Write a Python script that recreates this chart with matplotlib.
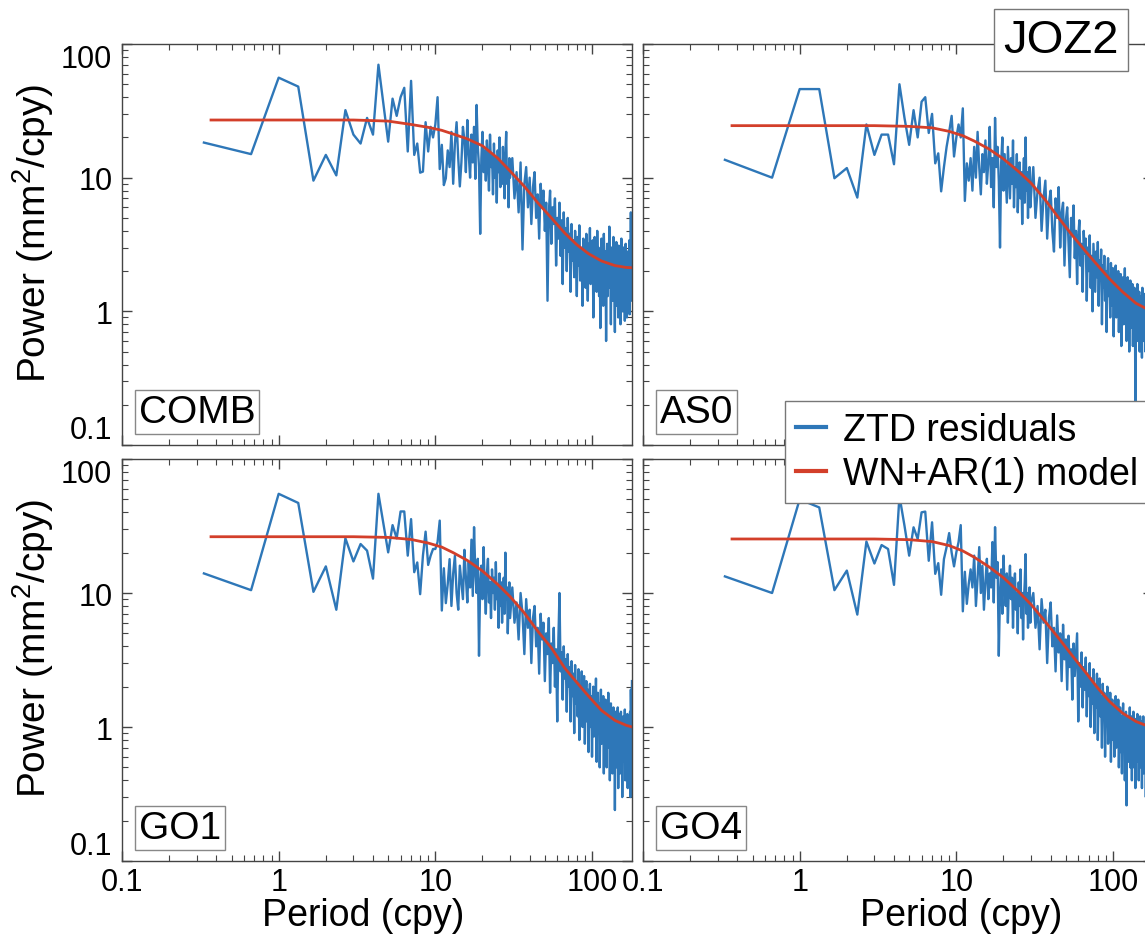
import numpy as np
import matplotlib
matplotlib.use("Agg")
import matplotlib.pyplot as plt
from matplotlib.lines import Line2D
from matplotlib.ticker import LogLocator, NullFormatter

plt.rcParams["font.family"] = ["Liberation Sans", "DejaVu Sans"]
plt.rcParams["mathtext.fontset"] = "custom"
plt.rcParams["mathtext.rm"] = "Liberation Sans"

# Fourier frequencies (cpy): 1/3 cpy spacing up to 30 cpy, 1 cpy spacing above
freq_low = np.arange(1, 91) / 3.0
freq_high = np.arange(31, 181) * 1.0
freq = np.concatenate([freq_low, freq_high])

# ZTD residual spectra (mm^2/cpy)
comb_low = [18.3, 15.0, 56, 48, 9.5, 14.8, 10.4, 32, 21, 18,
            28, 21, 70, 35, 18.6, 39, 29, 40, 47, 15.7,
            53, 14.8, 18, 10.9, 11.1, 26, 15.7, 24, 20, 25,
            40, 11.6, 17.6, 8.8, 9.9, 16, 12, 22, 9, 18,
            26, 14, 8.6, 13, 24, 19, 11, 27, 15, 10,
            21, 13, 24, 9.8, 35, 17, 12, 3.8, 14, 22,
            11, 16, 9.5, 19, 13, 8, 21, 12, 15, 7.5,
            18, 10, 14, 6.5, 16, 11, 20, 8.5, 13, 9,
            17, 10.5, 7, 15, 22, 9, 12, 6, 14, 10]
comb_high = [14, 7, 11, 5.5, 13, 2.9, 9, 12, 6, 10,
             4.5, 8.5, 11, 5, 7.5, 3.5, 9, 6, 8, 4,
             6.5, 1.2, 5.5, 8, 3.2, 6, 4.5, 7, 2.2, 5,
             3.5, 6.5, 2.6, 4.8, 1.6, 5.5, 3, 4.2, 2, 5,
             2.8, 3.8, 1.4, 4.5, 2.4, 3.4, 1.8, 4, 2.6, 1.3,
             3.6, 2.2, 4.4, 1.7, 3, 2.4, 1.1, 3.5, 2, 2.9,
             1.5, 3.8, 2.3, 1.2, 3.2, 2.6, 4.2, 1.6, 2.8, 1.9,
             3.4, 0.9, 2.5, 3.6, 1.8, 2.9, 1.4, 4, 2.1, 3,
             1.3, 2.7, 0.75, 2.2, 3.5, 1.7, 2.9, 1.1, 3.8, 2.3,
             1.6, 2.8, 0.6, 2, 3.2, 1.3, 2.6, 1.9, 4.3, 1.5,
             2.4, 0.8, 3, 1.8, 2.7, 1.2, 3.6, 2.2, 1.5, 0.7,
             2.9, 1.7, 3.3, 1.1, 2.5, 1.9, 0.9, 3.1, 2, 1.4,
             2.8, 0.8, 2.3, 3.5, 1.6, 2.6, 1, 2.1, 3, 1.3,
             2.5, 0.85, 1.9, 3.2, 1.5, 2.4, 0.9, 2.8, 1.7, 1.1,
             2.6, 1.4, 3.4, 0.95, 2.2, 1.6, 5.5, 1.2, 2.7, 1.8]

as0_low = [13.6, 10, 46, 46, 9.9, 11.8, 7.1, 25, 14.8, 21,
           21, 12.6, 50, 28, 17.6, 32, 20, 37, 40, 21.6,
           30, 12.8, 15.2, 7.9, 12, 17, 22, 29, 14.4, 20,
           25, 20, 33, 6.7, 12.8, 9.5, 14, 8, 17, 10,
           22, 12, 7.5, 15, 11, 19, 9, 13, 24, 8.5,
           14, 6, 28, 12, 17, 9.5, 3, 13, 20, 8,
           15, 10, 6.5, 17, 11, 7, 14, 9, 19, 6,
           12, 8.5, 15, 5.5, 10, 13, 7, 11, 4.5, 9.5,
           14, 6.5, 20, 8, 11, 5, 9, 12, 6, 7.5]
as0_high = [12, 5, 8, 10, 4, 7, 9.5, 3.5, 6.5, 8,
            4, 2.8, 7, 5, 8.5, 3, 5.5, 6.5, 2.2, 4.8,
            6, 3.3, 1.8, 5, 3.8, 6.2, 2.5, 4, 1.6, 3.6,
            4.8, 2.2, 3.2, 1.4, 4, 2.7, 3.5, 1.2, 3, 2,
            3.7, 1.5, 2.6, 1, 3.2, 2.1, 1.4, 2.8, 1.8, 3.3,
            1.1, 2.4, 1.7, 2.9, 0.8, 2.2, 1.5, 2.6, 1.2, 2,
            0.7, 1.9, 2.5, 1.3, 1.8, 0.9, 2.3, 1.5, 1.1, 2.1,
            0.65, 1.7, 1.3, 2.2, 0.9, 1.6, 1.2, 2, 0.7, 1.5,
            1.1, 1.9, 0.55, 1.4, 1, 1.8, 0.8, 1.3, 2.1, 0.9,
            1.5, 0.6, 1.2, 1.8, 0.85, 1.4, 0.5, 1.1, 1.7, 0.75,
            1.3, 0.95, 1.6, 0.55, 1.2, 0.8, 1.5, 1, 0.19, 1.3,
            0.7, 1.1, 1.6, 0.6, 1.2, 0.85, 1.4, 0.5, 1, 1.3,
            0.7, 1.1, 0.45, 1.5, 0.9, 1.2, 0.6, 1.35, 0.8, 1.05,
            0.5, 1.25, 0.75, 1.6, 0.65, 1.1, 0.4, 1.3, 0.85, 1.2,
            0.6, 1.4, 0.9, 0.5, 1.15, 0.7, 1.3, 0.8, 1.5, 0.65]

go1_low = [14, 10.5, 55, 47, 10.2, 15.8, 7.5, 25.6, 17.2, 23.2,
           20.7, 12.8, 55, 32.7, 20.1, 32.1, 25.6, 40.6, 40.6, 19,
           35.6, 14.3, 16.9, 9.8, 19, 28.7, 16.2, 19, 21.3, 21.3,
           24, 34.7, 7.4, 15.3, 8.4, 11.7, 17.9, 8, 14, 19,
           10, 7.5, 16, 12, 9, 21, 13, 8.5, 17, 11,
           25, 9.5, 31, 14, 10, 18, 3.4, 12, 16, 9,
           22, 11, 7, 14, 18, 8.5, 12, 6.5, 15, 10,
           13, 7.5, 17, 9, 11, 5.5, 14, 8, 12, 6,
           10, 13, 7, 20, 9, 11, 5, 8.5, 12, 6.5]
go1_high = [11, 6, 8.5, 4.5, 10, 7, 3.5, 9, 5.5, 7.5,
            3, 6.5, 8, 4, 5.5, 2.5, 7, 4.5, 6, 2.2,
            5, 3.5, 6.5, 1.8, 4.2, 3, 5.5, 2, 3.8, 1.1,
            4.5, 10, 2.6, 3.6, 1.6, 4, 2.3, 3.2, 1.3, 3.5,
            2, 2.8, 1.1, 3.1, 1.7, 2.5, 0.9, 2.9, 1.5, 2.2,
            1.2, 2.7, 0.8, 2, 1.4, 2.6, 1, 1.8, 2.4, 0.75,
            1.6, 2.2, 1.1, 1.9, 0.65, 1.5, 2.1, 1, 1.7, 0.6,
            1.4, 2, 0.85, 1.6, 1.1, 2.3, 0.55, 1.3, 1.8, 0.9,
            1.5, 0.5, 1.2, 1.9, 0.75, 1.4, 1, 1.7, 0.45, 1.2,
            0.8, 1.6, 1.05, 0.5, 1.4, 0.7, 1.8, 0.95, 1.3, 0.4,
            1.1, 1.5, 0.7, 1.2, 0.45, 1, 1.4, 0.6, 1.1, 0.24,
            0.9, 1.3, 0.5, 1.15, 0.7, 1.4, 0.35, 1, 0.8, 1.25,
            0.45, 0.95, 1.3, 0.6, 1.1, 0.3, 0.85, 1.2, 0.55, 1,
            0.7, 1.35, 0.4, 0.9, 1.15, 0.5, 0.8, 1.25, 0.35, 0.95,
            0.6, 1.1, 0.45, 0.85, 1.3, 0.3, 1.9, 1.05, 0.5, 2.2]

go4_low = [13.3, 10, 50, 43.5, 10.5, 14.7, 6.9, 24.2, 16.6, 22.8,
           21.3, 11.5, 53, 31.8, 19, 30.9, 25.3, 40, 40.5, 17.4,
           33.7, 13.9, 16.7, 9.7, 17.9, 22, 28, 20, 15.8, 20.1,
           24, 32.1, 7.3, 14.4, 8.3, 11.7, 15, 11, 19, 8,
           13, 22, 10, 16, 7.5, 12, 18, 9, 14, 11,
           24, 8.5, 31, 13, 17, 3.4, 10, 15, 7, 19,
           11, 8, 14, 6, 12, 16, 9, 13, 5.5, 11,
           14, 7.5, 10, 5, 12, 8, 15, 6.5, 10, 4.5,
           9, 12, 19.5, 7, 10, 5.5, 8, 11, 6, 8.5]
go4_high = [10, 5.5, 8, 3.8, 9, 6, 7.5, 3, 6.5, 8.5,
            4, 5.5, 2.6, 6.8, 3.6, 5, 2.2, 5.8, 3.2, 4.5,
            1.9, 4.8, 2.8, 3.8, 1.6, 4.2, 2.4, 3.5, 5, 1.1,
            3, 2, 3.6, 1.4, 2.8, 1.9, 3.3, 1.2, 2.5, 1.7,
            3, 1, 2.3, 1.5, 2.7, 0.9, 2, 1.4, 2.5, 0.8,
            1.8, 2.3, 1.2, 1.7, 0.7, 2.1, 1.3, 1.8, 0.6, 1.6,
            1.1, 2, 0.75, 1.5, 1, 1.8, 0.55, 1.3, 1.6, 0.8,
            1.4, 0.6, 1.2, 1.7, 0.7, 1.3, 0.9, 1.6, 0.5, 1.1,
            1.4, 0.65, 1.2, 0.45, 1, 1.5, 0.7, 1.15, 0.4, 0.95,
            1.3, 0.26, 0.85, 1.2, 0.55, 1.05, 0.75, 1.4, 0.5, 0.9,
            1.2, 0.4, 1, 0.7, 1.3, 0.5, 0.9, 1.15, 0.35, 0.8,
            1.1, 0.55, 1.25, 0.7, 0.95, 0.4, 1, 0.65, 1.2, 0.5,
            0.85, 1.1, 0.35, 0.9, 0.6, 1.2, 0.45, 0.8, 1.05, 0.5,
            0.95, 0.3, 0.75, 1.1, 0.55, 0.9, 0.4, 1, 0.7, 1.2,
            0.45, 0.85, 0.6, 1.05, 0.35, 0.8, 1.1, 0.5, 0.9, 0.6]

# WN+AR(1) model curves
model_freq = [0.37, 1, 3, 5, 7, 9, 11, 13, 16, 20, 25, 30, 37, 45, 55, 67,
              80, 95, 115, 140, 165, 180]
comb_model = [27, 27, 27, 26.5, 25, 23.8, 22.6, 21.2, 19.5, 17.3, 14, 11.2,
              8.6, 6.5, 5.0, 3.85, 3.15, 2.7, 2.38, 2.2, 2.13, 2.12]
as0_model = [24.5, 24.5, 24.5, 24.2, 23.6, 22.2, 20.6, 18.8, 16.5, 13.8, 11.1,
             9.1, 6.8, 5.0, 3.7, 2.8, 2.2, 1.75, 1.4, 1.15, 1.04, 1.0]
go1_model = [26.3, 26.3, 26.3, 26, 25.1, 23.6, 22, 20, 17.5, 14.6, 11.6, 9.4,
             7.1, 5.2, 3.9, 2.75, 2.15, 1.7, 1.33, 1.12, 1.03, 1.0]
go4_model = [25.3, 25.3, 25.3, 25, 24.2, 22.6, 20.6, 18.5, 15.8, 13, 10.2, 8.2,
             6.1, 4.6, 3.4, 2.55, 1.95, 1.55, 1.27, 1.1, 1.02, 1.0]

BLUE = "#2e77b8"
RED = "#d33f2a"
W, H = 1145, 937

fig = plt.figure(figsize=(W / 100, H / 100), dpi=100)


def px_axes(left, top, right, bottom):
    return fig.add_axes([left / W, 1 - bottom / H, (right - left) / W, (bottom - top) / H])


ax_tl = px_axes(122, 45, 632, 446)
ax_tr = px_axes(643, 45, 1153, 446)
ax_bl = px_axes(122, 460, 632, 862)
ax_br = px_axes(643, 460, 1153, 862)

panels = [
    (ax_tl, comb_low + comb_high, comb_model, "COMB"),
    (ax_tr, as0_low + as0_high, as0_model, "AS0"),
    (ax_bl, go1_low + go1_high, go1_model, "GO1"),
    (ax_br, go4_low + go4_high, go4_model, "GO4"),
]

for ax, power, model, name in panels:
    ax.plot(freq, power, color=BLUE, lw=1.7)
    ax.plot(model_freq, model, color=RED, lw=2.0)
    ax.set_xscale("log")
    ax.set_yscale("log")
    ax.set_xlim(0.1, 180)
    ax.set_ylim(0.1, 100)

    for axis in (ax.xaxis, ax.yaxis):
        axis.set_minor_locator(LogLocator(base=10, subs=np.arange(2, 10), numticks=20))
        axis.set_minor_formatter(NullFormatter())
    ax.set_xticks([0.1, 1, 10, 100])
    ax.set_xticklabels(["0.1", "1", "10", "100"], fontsize=22)
    ax.set_yticks([0.1, 1, 10, 100])
    ylabels = ax.set_yticklabels(["0.1", "1", "10", "100"], fontsize=22)
    ylabels[0].set_va("bottom")
    ylabels[-1].set_va("top")

    ax.tick_params(which="both", direction="in", top=True, right=True, color="#444")
    ax.tick_params(which="major", length=7, width=1)
    ax.tick_params(which="minor", length=4, width=0.8)
    ax.tick_params(axis="y", pad=7)
    ax.tick_params(axis="x", pad=4)
    for sp in ax.spines.values():
        sp.set_color("#444")
        sp.set_linewidth(1.0)

    ax.text(0.033, 0.037, name, transform=ax.transAxes, fontsize=28,
            ha="left", va="bottom",
            bbox=dict(boxstyle="square,pad=0.1", fc="white", ec="#888", lw=1))

# shared labels only on the outer panels
for ax in (ax_tl, ax_tr):
    ax.tick_params(labelbottom=False)
for ax in (ax_tr, ax_br):
    ax.tick_params(labelleft=False)

for ax in (ax_tl, ax_bl):
    ax.set_ylabel(r"Power (mm$^\mathregular{2}$/cpy)", fontsize=28)
    ax.yaxis.set_label_coords(-0.13, 0.53)

ax_bl.set_xlabel("Period (cpy)", fontsize=27)
ax_bl.xaxis.set_label_coords(0.473, -0.09)
ax_br.set_xlabel("Period (cpy)", fontsize=27)
ax_br.xaxis.set_label_coords(0.624, -0.09)

handles = [Line2D([], [], color=BLUE, lw=3), Line2D([], [], color=RED, lw=3)]
fig.legend(handles, ["ZTD residuals", "WN+AR(1) model"],
           loc="upper left", bbox_to_anchor=(785 / W, 1 - 402 / H),
           borderaxespad=0, fontsize=27, fancybox=False, framealpha=1,
           edgecolor="#777", handlelength=0.8, handletextpad=0.45,
           borderpad=0.3, labelspacing=0.2)

fig.text(1061 / W, 1 - 41 / H, "JOZ2", fontsize=34, ha="center", va="center",
         bbox=dict(boxstyle="square,pad=0.2", fc="white", ec="#777", lw=1))

fig.savefig("out.png", dpi=100)
